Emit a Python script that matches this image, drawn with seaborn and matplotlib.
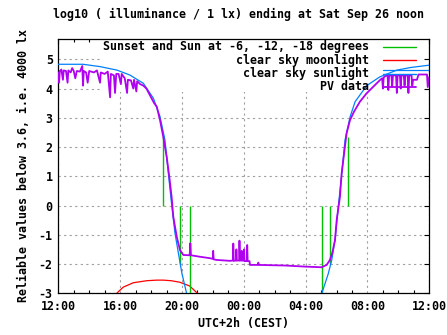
import matplotlib
matplotlib.use("Agg")
import matplotlib.pyplot as plt
import seaborn as sns
import pandas as pd
from matplotlib.patches import Rectangle
from matplotlib.ticker import MultipleLocator

# ---------------- data (hours after Fri 12:00, CEST) ----------------
x_tick_hours = [0, 4, 8, 12, 16, 20, 24]
x_tick_labels = ["12:00", "16:00", "20:00", "00:00", "04:00", "08:00", "12:00"]
y_ticks = [-3, -2, -1, 0, 1, 2, 3, 4, 5]

# clear sky sunlight (evening and morning branches)
sun_eve_h = [0.0, 1.6, 2.7, 3.8, 4.64, 5.07, 5.5, 6.15, 6.58, 6.9, 7.12, 7.34, 7.55, 7.77, 7.99, 8.3]
sun_eve_v = [4.83, 4.83, 4.75, 4.63, 4.46, 4.32, 4.18, 3.67, 3.04, 2.24, 1.10, 0.0, -0.95, -1.63, -2.3, -3.0]
sun_mor_h = [17.05, 17.47, 17.69, 17.9, 18.12, 18.34, 18.55, 18.88, 19.2, 19.95, 20.8, 21.9, 22.8, 24.0]
sun_mor_v = [-3.0, -2.32, -1.86, -1.18, 0.0, 1.1, 2.24, 3.04, 3.55, 4.1, 4.4, 4.63, 4.72, 4.8]
sun_flat_h = [21.0, 24.0]
sun_flat_v = [4.62, 4.62]

# clear sky moonlight
moon_h = [3.78, 4.2, 4.85, 5.72, 6.37, 6.8, 7.3, 7.85, 8.5, 9.0]
moon_v = [-3.0, -2.79, -2.64, -2.57, -2.55, -2.55, -2.57, -2.62, -2.75, -3.0]

# sunset / sun at -6, -12 degrees markers
event_h = [6.79, 7.89, 8.54, 17.04, 17.6, 18.76]
event_lo = [0.0, -2.0, -4.0, -4.0, -2.0, 0.0]
event_hi = [2.35, 0.0, 0.0, 0.0, 0.0, 2.35]

# PV data
pv_h = [0.0, 0.05, 0.1, 0.2, 0.3, 0.35, 0.5, 0.6, 0.65, 0.8, 0.9, 1.0, 1.1, 1.2, 1.4,
        1.55, 1.6, 1.65, 1.8, 1.9, 2.0, 2.3, 2.5, 2.7, 2.75, 3.0, 3.2, 3.35, 3.4, 3.6,
        3.67, 3.75, 3.9, 4.05, 4.1, 4.3, 4.45, 4.5, 4.7, 4.85, 4.9, 5.05, 5.1, 5.3, 5.5,
        5.7, 5.85, 6.0, 6.2, 6.37, 6.58, 6.79, 7.01, 7.18, 7.33, 7.44, 7.66, 7.87, 8.09,
        8.5, 8.54, 8.58, 9.16, 9.81, 10.0, 10.02, 10.05, 10.25, 11.1, 11.3, 11.32, 11.35,
        11.5, 11.52, 11.55, 11.7, 11.72, 11.75, 11.85, 11.87, 11.9, 12.0, 12.02, 12.05,
        12.2, 12.22, 12.25, 12.37, 12.4, 12.9, 12.94, 12.98, 14.66, 16.07, 17.04, 17.36,
        17.57, 17.72, 17.9, 18.01, 18.22, 18.33, 18.49, 18.65, 18.87, 19.13, 19.51, 19.95,
        20.37, 20.81, 20.95, 21.0, 21.05, 21.13, 21.3, 21.35, 21.4, 21.55, 21.6, 21.65,
        21.85, 21.9, 21.95, 22.1, 22.15, 22.2, 22.35, 22.4, 22.45, 22.6, 22.65, 22.7,
        22.85, 22.9, 22.95, 23.2, 23.3, 23.85, 23.9, 24.0]
pv_v = [4.55, 4.2, 4.6, 4.65, 4.3, 4.62, 4.6, 4.2, 4.62, 4.55, 4.7, 4.6, 4.35, 4.6, 4.58,
        4.77, 4.1, 4.6, 4.55, 4.2, 4.6, 4.55, 4.62, 4.2, 4.55, 4.5, 4.58, 3.7, 4.5, 4.45,
        3.85, 4.5, 4.5, 4.15, 4.5, 4.35, 3.85, 4.3, 4.28, 4.0, 4.3, 3.9, 4.25, 4.15, 4.1,
        4.0, 3.85, 3.7, 3.5, 3.38, 2.92, 2.35, 1.67, 0.99, 0.3, -0.38, -1.06, -1.52, -1.69,
        -1.7, -1.29, -1.7, -1.75, -1.8, -1.82, -1.55, -1.84, -1.86, -1.89, -1.88, -1.3, -1.89,
        -1.88, -1.5, -1.88, -1.88, -1.2, -1.88, -1.88, -1.55, -1.88, -1.88, -1.5, -1.9,
        -1.9, -1.35, -1.9, -1.9, -2.03, -2.03, -1.95, -2.03, -2.05, -2.09, -2.11, -2.03,
        -1.86, -1.63, -1.18, -0.49, 0.3, 1.1, 1.79, 2.47, 2.92, 3.21, 3.55, 3.84,
        4.06, 4.29, 4.35, 4.0, 4.38, 4.42, 4.45, 3.95, 4.45, 4.45, 4.05, 4.45,
        4.45, 3.85, 4.45, 4.45, 4.0, 4.45, 4.45, 4.1, 4.45, 4.45, 3.85, 4.45,
        4.45, 4.1, 4.3, 4.3, 4.48, 4.48, 4.05, 4.4]

legend_labels = ["Sunset and Sun at -6, -12, -18 degrees", "clear sky moonlight",
                 "clear sky sunlight", "PV data"]

# ---------------- style ----------------
GREEN, RED, BLUE, PURPLE = "#00c000", "#ff0000", "#0080ff", "#b000f0"
FS = 8.35

sns.set_theme(style="white")
plt.rcParams["font.family"] = ["DejaVu Sans Mono", "DejaVu Sans"]
plt.rcParams["font.weight"] = "bold"
plt.rcParams["font.size"] = FS
for k in ["text.color", "axes.labelcolor", "xtick.color", "ytick.color", "axes.edgecolor"]:
    plt.rcParams[k] = "black"

fig = plt.figure(figsize=(4.47, 3.35), dpi=100)
ax = fig.add_axes([0.1304, 0.1245, 0.8300, 0.7582])

df_pv = pd.DataFrame({"h": pv_h, "v": pv_v})
df_se = pd.DataFrame({"h": sun_eve_h, "v": sun_eve_v})
df_sm = pd.DataFrame({"h": sun_mor_h, "v": sun_mor_v})
df_sf = pd.DataFrame({"h": sun_flat_h, "v": sun_flat_v})
df_mo = pd.DataFrame({"h": moon_h, "v": moon_v})

kw = dict(x="h", y="v", estimator=None, sort=False, ax=ax, legend=False)
sns.lineplot(data=df_mo, color=RED, lw=0.9, zorder=3, **kw)
ax.vlines(event_h, event_lo, event_hi, colors=GREEN, lw=1.0, zorder=3)
sns.lineplot(data=df_se, color=BLUE, lw=0.9, zorder=4, **kw)
sns.lineplot(data=df_sm, color=BLUE, lw=0.9, zorder=4, **kw)
sns.lineplot(data=df_sf, color=BLUE, lw=0.9, zorder=4, **kw)
sns.lineplot(data=df_pv, color=PURPLE, lw=1.3, zorder=5, **kw)

ax.set_xlim(0, 24)
ax.set_ylim(-3, 5.684)
ax.set_xticks(x_tick_hours)
ax.set_xticklabels(x_tick_labels)
ax.xaxis.set_minor_locator(MultipleLocator(1))
ax.set_yticks(y_ticks)
ax.set_yticklabels([str(t) for t in y_ticks])
ax.set_xlabel("")
ax.set_ylabel("")

ax.set_axisbelow(True)
ax.grid(True, which="major", color="#a0a0a0", linestyle=(0, (2, 3)), linewidth=0.8)
for s in ax.spines.values():
    s.set_color("black")
    s.set_linewidth(0.9)
ax.tick_params(which="major", direction="in", length=3.5, width=0.8, top=True, right=True,
               colors="black", labelsize=FS, pad=4)
ax.tick_params(axis="x", which="major", pad=5)
ax.tick_params(which="minor", direction="in", length=2, width=0.8, top=True, bottom=True)

# legend (gnuplot style: right-aligned text, sample to the right, opaque box)
ax.add_patch(Rectangle((0.1205, 0.7925), 0.862, 0.2075, transform=ax.transAxes,
                       facecolor="white", edgecolor="none", zorder=1))
rows_y = [0.9697, 0.9173, 0.865, 0.8122]
for lab, col, yy in zip(legend_labels, [GREEN, RED, BLUE, PURPLE], rows_y):
    ax.text(0.8375, yy, lab, transform=ax.transAxes, ha="right", va="center",
            fontsize=FS, fontweight="bold", color="black", zorder=10)
    ax.plot([0.876, 0.965], [yy, yy], transform=ax.transAxes, color=col,
            lw=1.3 if col == PURPLE else 1.0, zorder=10)

fig.text(238.7 / 447, 1 - 14 / 335, "log10 ( illuminance / 1 lx) ending at Sat Sep 26 noon",
         ha="center", va="center", fontsize=FS, fontweight="bold", color="black")
fig.text(244 / 447, 1 - 324 / 335, "UTC+2h (CEST)", ha="center", va="center",
         fontsize=FS, fontweight="bold", color="black")
fig.text(24 / 447, 1 - 166 / 335, "Reliable values below 3.6, i.e. 4000 lx", ha="center",
         va="center", rotation=90, fontsize=FS, fontweight="bold", color="black")

fig.savefig("out.png", dpi=100)
